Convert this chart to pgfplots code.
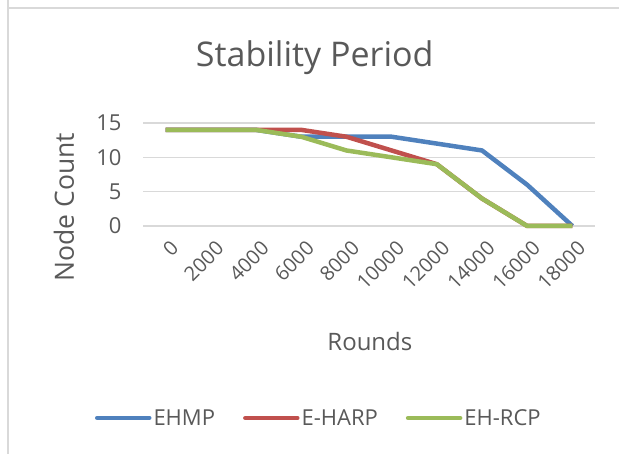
\documentclass[border=0pt]{standalone}
\usepackage{pgfplots}
\pgfplotsset{compat=1.18}
\usepackage{fontspec}
\setmainfont{Open Sans}
\definecolor{txt}{HTML}{595959}
\definecolor{grd}{HTML}{D9D9D9}
\definecolor{cblue}{HTML}{4F81BD}
\definecolor{cred}{HTML}{C0504D}
\definecolor{cgreen}{HTML}{9BBB59}
\pgfplotstableread{
x ehmp eharp ehrcp
0 14 14 14
1 14 14 14
2 14 14 14
3 13 14 13
4 13 13 11
5 13 11 10
6 12 9 9
7 11 4 4
8 6 0 0
9 0 0 0
}\datatable
\begin{document}
\begin{tikzpicture}[x=1pt,y=1pt]
\path[use as bounding box] (0,0) rectangle (619,454);
\draw[grd, line width=1.5pt] (8,454) -- (8,446) -- (619,446);
\draw[grd, line width=1.5pt] (8,446) -- (8,0);
\begin{axis}[
  at={(143pt,228pt)}, anchor=south west,
  scale only axis, width=452pt, height=103pt,
  xmin=-0.5, xmax=9.5, ymin=0, ymax=15,
  xtick={0,...,9},
  xticklabels={0,2000,4000,6000,8000,10000,12000,14000,16000,18000},
  ytick={0,5,10,15},
  ymajorgrids, grid style={grd, line width=1.3pt},
  axis line style={draw=none},
  major tick style={draw=none},
  clip=false,
  /pgf/number format/assume math mode=true,
  tick label style={font=\fontsize{22}{24}\selectfont, text=txt},
  yticklabel style={xshift=-18pt},
  xticklabel style={font=\fontsize{20}{22}\selectfont, xshift=10pt, yshift=-18pt, rotate=45, anchor=east, inner sep=1pt},
  title={Stability Period},
  title style={at={(rel axis cs:0.38,1.486)}, anchor=base, font=\fontsize{34}{36}\selectfont, text=txt},
  xlabel={Rounds},
  xlabel style={at={(rel axis cs:0.502,-1.126)}, anchor=center, font=\fontsize{24}{26}\selectfont, text=txt},
  ylabel={Node Count},
  ylabel style={at={(rel axis cs:-0.175,0.184)}, anchor=center, rotate=0, font=\fontsize{26.5}{28}\selectfont, text=txt},
  legend style={at={(rel axis cs:0.389,-1.864)}, anchor=center, draw=none, fill=none,
    font=\fontsize{22}{24}\selectfont, text=txt, legend columns=3,
    /tikz/every even column/.append style={column sep=26pt},
    nodes={inner xsep=2pt}},
  legend image code/.code={\draw[#1, line cap=round] (0pt,0pt) -- (52pt,0pt);},
  every axis plot/.append style={line width=4.5pt, line join=round, no marks},
]
\addplot[cblue] table[x=x, y=ehmp] {\datatable};
\addlegendentry{EHMP}
\addplot[cred] table[x=x, y=eharp] {\datatable};
\addlegendentry{E-HARP}
\addplot[cgreen] table[x=x, y=ehrcp] {\datatable};
\addlegendentry{EH-RCP}
\end{axis}
\end{tikzpicture}
\end{document}
